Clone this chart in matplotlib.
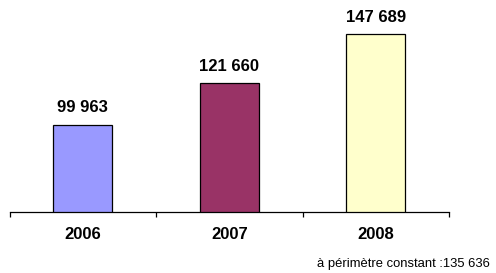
import matplotlib
matplotlib.use("Agg")
import matplotlib.pyplot as plt

categories = ["2006", "2007", "2008"]
values = [99963, 121660, 147689]
value_labels = ["99 963", "121 660", "147 689"]
footnote = "à périmètre constant :135 636"
colors = ["#9999FF", "#993366", "#FFFFCC"]

plt.rcParams['font.family'] = ['Liberation Sans', 'DejaVu Sans']

W, H = 496, 273
fig = plt.figure(figsize=(W / 100, H / 100), dpi=100)
ax = fig.add_axes([9.5 / W, (H - 212) / H, (449 - 9.5) / W, (212 - 20) / H])

x = list(range(len(categories)))
bars = ax.bar(x, values, width=0.40, color=colors, edgecolor="black", linewidth=0.9, zorder=2)

ax.set_xlim(-0.5, len(categories) - 0.5)
ax.set_ylim(53800, 155183)

for s in ["left", "right", "top"]:
    ax.spines[s].set_visible(False)
ax.spines["bottom"].set_linewidth(0.9)
ax.spines["bottom"].set_zorder(3)
ax.set_yticks([])

ax.set_xticks([i - 0.5 for i in range(len(categories) + 1)])
ax.set_xticklabels([])
ax.tick_params(axis="x", which="major", direction="out", length=3.6, width=0.9)
ax.set_xticks(x, minor=True)
ax.set_xticklabels(categories, minor=True, fontsize=12, fontweight="bold")
ax.tick_params(axis="x", which="minor", length=0, pad=11)

for xi, v, lab in zip(x, values, value_labels):
    ax.annotate(lab, (xi, v), xytext=(0, 8.9), textcoords="offset points",
                ha="center", va="baseline", fontsize=12, fontweight="bold")

fig.text(490 / W, 1 - 266.7 / H, footnote, ha="right", va="baseline", fontsize=9.4)

fig.savefig("out.png", dpi=100)
